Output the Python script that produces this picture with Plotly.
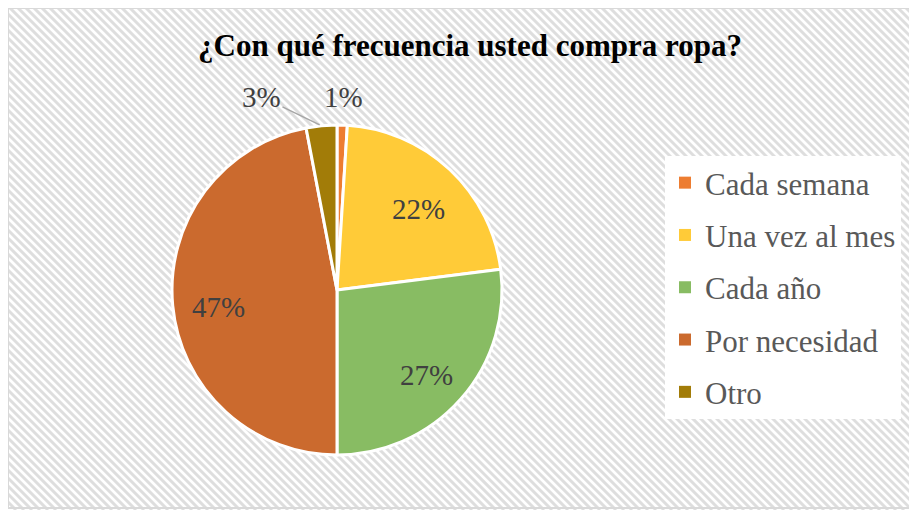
import math
import plotly.graph_objects as go

# data
categories = ["Cada semana", "Una vez al mes", "Cada año", "Por necesidad", "Otro"]
percentages = [1, 22, 27, 47, 3]
colours = ["#ED7D31", "#FFCB38", "#88BC63", "#CB6A2E", "#A27C08"]
# thin slices get their label outside: (dx, dy in px from slice edge, leader line)
outside_offsets = {"Cada semana": (1, -28, False), "Otro": (-60, -29, True)}

OFF = 8  # page body margin
W, H = 917 - OFF, 510 - OFF


def px_x(x):
    return (x - OFF) / W


def px_y(y):
    return 1 - (y - OFF) / H


def hatch_path(x0, y0, x1, y1, step=8):
    """Diagonal '\\' hatch lines clipped to a rectangle, in paper coords."""
    parts = []
    c = x0 - (y1 - y0)
    while c < x1:
        xa, ya = c, y0
        if xa < x0:
            ya = y0 + (x0 - xa)
            xa = x0
        xb, yb = c + (y1 - y0), y1
        if xb > x1:
            yb = y1 - (xb - x1)
            xb = x1
        if ya < yb and xa < xb:
            parts.append(f"M{px_x(xa):.5f},{px_y(ya):.5f}L{px_x(xb):.5f},{px_y(yb):.5f}")
        c += step
    return "".join(parts)


cx, cy, r = 337, 290, 165
label_font = dict(family="Liberation Serif", size=29, color="#404040")

fig = go.Figure()

fig.add_trace(go.Pie(
    labels=categories,
    values=percentages,
    sort=False,
    direction="clockwise",
    rotation=0,
    marker=dict(colors=colours, line=dict(color="white", width=3)),
    textinfo="none",
    showlegend=False,
    hoverinfo="label+percent",
    domain=dict(x=[px_x(cx - r), px_x(cx + r)], y=[px_y(cy + r), px_y(cy - r)]),
))

# data labels, placed along each slice's mid angle
total = sum(percentages)
cum = 0
for name, val in zip(categories, percentages):
    mid = (cum + val / 2) / total * 2 * math.pi
    cum += val
    if name in outside_offsets:
        dx, dy, leader = outside_offsets[name]
        ex = cx + r * math.sin(mid)
        ey = cy - r * math.cos(mid)
        fig.add_annotation(
            x=px_x(ex), y=px_y(ey), xref="paper", yref="paper",
            text=f"{val}%", font=label_font,
            showarrow=True, arrowhead=0, arrowwidth=1.5,
            arrowcolor="#A6A6A6" if leader else "rgba(0,0,0,0)",
            ax=dx, ay=dy, standoff=2,
        )
    else:
        lx = cx + 0.72 * r * math.sin(mid)
        ly = cy - 0.72 * r * math.cos(mid)
        fig.add_annotation(
            x=px_x(lx), y=px_y(ly), xref="paper", yref="paper",
            xanchor="center", yanchor="middle", yshift=-6,
            text=f"{val}%", font=label_font, showarrow=False,
        )

# legend entries (own groups so the spacing can be set)
for name, col in zip(categories, colours):
    fig.add_trace(go.Scatter(
        x=[None], y=[None], mode="markers", name=name,
        marker=dict(symbol="square", size=10, color=col),
        legendgroup=name, showlegend=True,
    ))

fig.add_shape(type="path", xref="paper", yref="paper", layer="below",
              path=hatch_path(8, 8, 917, 510),
              line=dict(color="#DEDEDE", width=3))
fig.add_shape(type="rect", xref="paper", yref="paper", layer="below",
              x0=px_x(8), x1=px_x(925), y0=px_y(508), y1=px_y(8),
              line=dict(color="#D9D9D9", width=2))

fig.update_layout(
    width=W, height=H,
    margin=dict(l=0, r=0, t=0, b=0),
    paper_bgcolor="white",
    plot_bgcolor="rgba(0,0,0,0)",
    xaxis=dict(visible=False),
    yaxis=dict(visible=False),
    title=dict(
        text="<b>¿Con qué frecuencia usted compra ropa?</b>",
        x=px_x(470), xanchor="center",
        y=px_y(45), yanchor="middle",
        font=dict(family="Liberation Serif", size=31, color="black"),
    ),
    legend=dict(
        x=px_x(665), y=px_y(156), xanchor="left", yanchor="top",
        bgcolor="white",
        font=dict(family="Liberation Serif", size=31, color="#595959"),
        tracegroupgap=9,
        itemsizing="constant",
    ),
)

fig.write_html("out.html")
